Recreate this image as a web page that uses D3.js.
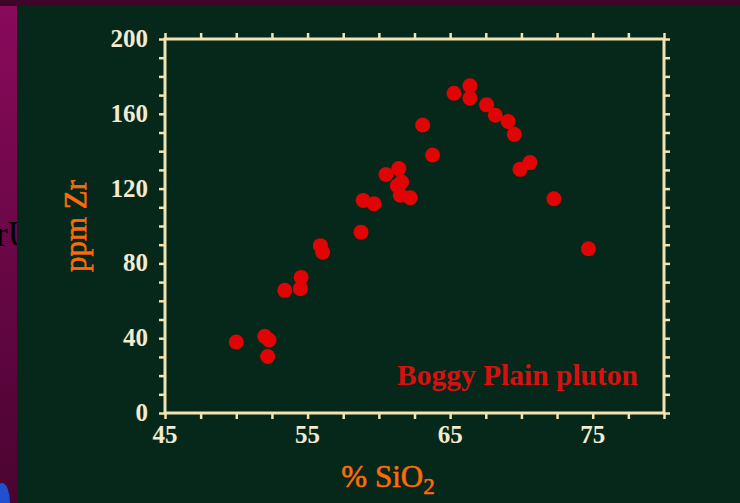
<!DOCTYPE html>
<html><head><meta charset="utf-8">
<script src="https://cdn.jsdelivr.net/npm/d3@7"></script>
<style>html,body{margin:0;padding:0;background:#5a0638;overflow:hidden}</style>
</head><body>
<script>
const sio2 = [50.0, 52.0, 52.3, 52.2, 53.4, 54.5, 54.55, 55.9, 56.06, 58.75, 58.9, 59.66,
  60.5, 61.4, 61.6, 61.3, 61.5, 62.2, 63.07, 63.77, 65.27, 66.39, 66.39, 67.56, 68.17, 69.07, 69.5, 69.9, 70.6, 72.28, 74.7];
const zr = [38, 41, 39, 30.2, 65.6, 66.5, 72.5, 89.5, 86, 96.7, 113.7, 111.9,
  127.6, 130.7, 123.5, 121.5, 116.5, 115.1, 154, 138, 171, 175, 168.4, 164.8, 159.2, 155.9, 149, 130.3, 133.9, 114.6, 87.8];
const xTickLabels = [45, 55, 65, 75];
const yTickLabels = [0, 40, 80, 120, 160, 200];

const W = 740, H = 503;
const svg = d3.select("body").append("svg").attr("width", W).attr("height", H);
const defs = svg.append("defs");
const g1 = defs.append("linearGradient").attr("id","mag").attr("x1",0).attr("y1",0).attr("x2",0).attr("y2",1);
g1.append("stop").attr("offset","0%").attr("stop-color","#8a0a5c");
g1.append("stop").attr("offset","100%").attr("stop-color","#4a0430");
svg.append("rect").attr("width",W).attr("height",H).attr("fill","url(#mag)");
svg.append("rect").attr("x",0).attr("y",0).attr("width",W).attr("height",6).attr("fill","#3e0528");
svg.append("text").attr("x",-4).attr("y",246).attr("font-family","Liberation Serif, serif")
  .attr("font-size",35).attr("fill","#000").text("rU");
svg.append("ellipse").attr("cx",2).attr("cy",503).attr("rx",8).attr("ry",20).attr("fill","#2050d0");
svg.append("rect").attr("x",17).attr("y",6).attr("width",W-17).attr("height",H-6).attr("fill","#05281a");

const x = d3.scaleLinear().domain([45, 80]).range([165, 664]);
const y = d3.scaleLinear().domain([0, 200]).range([413, 39]);
const axisCol = "#f3e3b0";
const labCol = "#f2ead2";
const serif = "Liberation Serif, Times New Roman, serif";

function styleAxis(sel) {
  sel.select(".domain").remove();
  sel.selectAll("line").attr("stroke", axisCol).attr("stroke-width", 2.5);
}
const xMinor = d3.range(45, 80.01, 2.5);
const yMinor = d3.range(0, 200.01, 10);
svg.append("g").attr("transform","translate(0,413)")
  .call(d3.axisBottom(x).tickValues(xMinor).tickSize(6).tickFormat("")).call(styleAxis);
svg.append("g").attr("transform","translate(0,39)")
  .call(d3.axisTop(x).tickValues(xMinor).tickSize(6).tickFormat("")).call(styleAxis);
svg.append("g").attr("transform","translate(165,0)")
  .call(d3.axisLeft(y).tickValues(yMinor).tickSize(6).tickFormat("")).call(styleAxis);
svg.append("g").attr("transform","translate(664,0)")
  .call(d3.axisRight(y).tickValues(yMinor).tickSize(6).tickFormat("")).call(styleAxis);
svg.append("rect").attr("x",165).attr("y",39).attr("width",664-165).attr("height",413-39)
  .attr("fill","none").attr("stroke",axisCol).attr("stroke-width",3);

svg.append("g").selectAll("text").data(xTickLabels).join("text")
  .attr("x", d => x(d)).attr("y", 443).attr("text-anchor","middle")
  .attr("font-family",serif).attr("font-weight","bold").attr("font-size",25).attr("fill",labCol)
  .text(d => d);
svg.append("g").selectAll("text").data(yTickLabels).join("text")
  .attr("x", 148).attr("y", d => y(d) + 8).attr("text-anchor","end")
  .attr("font-family",serif).attr("font-weight","bold").attr("font-size",25).attr("fill",labCol)
  .text(d => d);

const xt = svg.append("text").attr("x",388).attr("y",487).attr("text-anchor","middle")
  .attr("font-family",serif).attr("font-size",31).attr("fill","#ff6a0a")
  .attr("stroke","#ff6a0a").attr("stroke-width",0.6);
xt.append("tspan").text("% SiO");
xt.append("tspan").attr("dy",7).attr("font-size",23).text("2");
svg.append("text").attr("transform","translate(86,226) rotate(-90)").attr("text-anchor","middle")
  .attr("font-family",serif).attr("font-size",31).attr("fill","#ff6a0a")
  .attr("stroke","#ff6a0a").attr("stroke-width",0.6).text("ppm Zr");

svg.append("g").selectAll("circle").data(sio2.map((v,i)=>[v, zr[i]])).join("circle")
  .attr("cx", d => x(d[0])).attr("cy", d => y(d[1])).attr("r", 7.5).attr("fill","#e00404");

svg.append("text").attr("x",638).attr("y",385).attr("text-anchor","end")
  .attr("font-family",serif).attr("font-weight","bold").attr("font-size",29.5).attr("fill","#d81010")
  .text("Boggy Plain pluton");
</script>
</body></html>
